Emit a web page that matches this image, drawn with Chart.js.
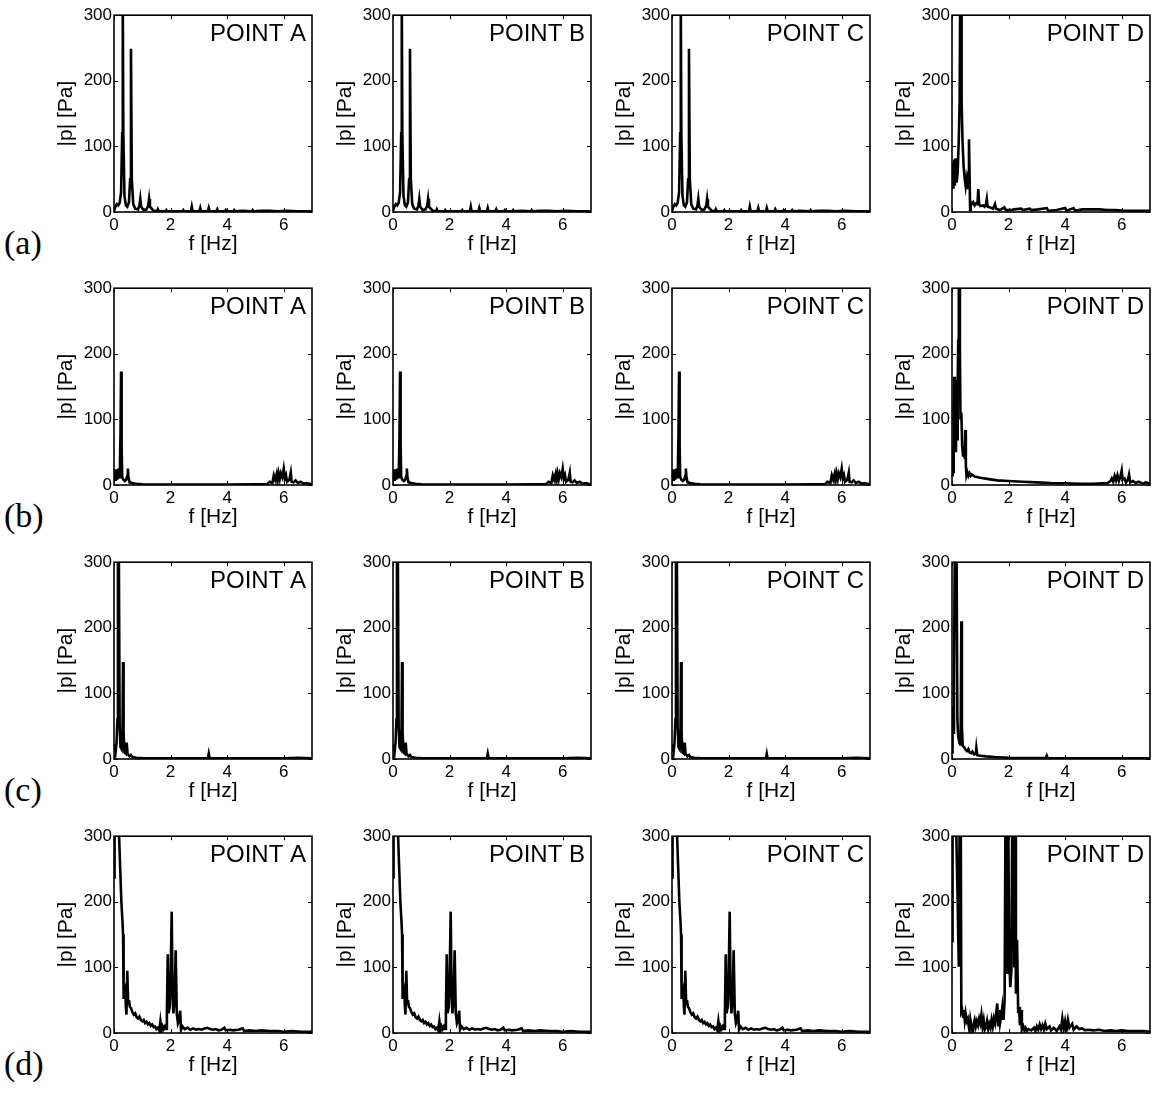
<!DOCTYPE html>
<html>
<head>
<meta charset="utf-8">
<script src="https://cdn.jsdelivr.net/npm/chart.js@4.4.1/dist/chart.umd.min.js"></script>
<style>
html,body{margin:0;padding:0;background:#fff;overflow:hidden;width:1154px;height:1095px}
.panel{position:absolute}
.rowlab{position:absolute;font-family:"Liberation Serif","Times New Roman",serif;font-size:34px;line-height:1;color:#000}
</style>
</head>
<body>
<script>
// axis ticks and labels
const freqTicks=[0,2,4,6]
const pTicks=[0,100,200,300]
const rowLabels=['(a)','(b)','(c)','(d)']
const pointNames=['POINT A','POINT B','POINT C','POINT D']

// spectra [f (Hz), |p| (Pa)]; values above 300 are clipped by the axes
// row (a)
const specA_abc=[[0,2],[0.05,8],[0.1,12],[0.15,10],[0.2,14],[0.25,30],[0.29,120],[0.31,330],[0.33,120],[0.37,25],[0.42,10],[0.47,8],[0.53,15],[0.57,50],[0.6,249],[0.63,50],[0.68,12],[0.75,5],[0.85,4],[0.9,10],[0.93,20],[0.96,8],[1.05,3],[1.15,4],[1.21,10],[1.24,20],[1.27,8],[1.4,2],[1.52,1],[1.55,4],[1.58,1],[1.82,1],[1.85,3],[1.88,1],[2.2,1],[2.42,1],[2.45,3],[2.48,1],[2.72,1],[2.75,8],[2.78,1],[3.02,1],[3.05,6],[3.08,1],[3.32,1],[3.35,6],[3.38,1],[3.62,1],[3.65,4],[3.68,1],[3.92,1],[3.95,3],[3.98,1],[4.22,1],[4.25,3],[4.28,1],[4.55,2],[4.87,1],[4.9,3],[4.93,1],[5.2,2],[5.5,2],[5.8,1],[6.1,2],[6.5,1],[7,1]]
const specA_d=[[0,40],[0.03,75],[0.05,35],[0.08,80],[0.1,40],[0.13,82],[0.16,45],[0.2,60],[0.24,110],[0.27,170],[0.29,330],[0.32,330],[0.34,170],[0.37,110],[0.41,70],[0.45,50],[0.48,40],[0.5,48],[0.53,35],[0.56,45],[0.58,60],[0.6,111],[0.62,60],[0.64,3],[0.66,15],[0.7,12],[0.75,15],[0.8,10],[0.85,13],[0.9,12],[0.93,35],[0.96,12],[1.0,9],[1.1,10],[1.15,8],[1.2,12],[1.23,20],[1.26,8],[1.35,7],[1.45,5],[1.52,12],[1.56,5],[1.7,3],[1.85,7],[1.9,3],[2.1,3],[2.2,4],[2.45,5],[2.5,3],[2.75,5],[2.8,3],[3.05,4],[3.35,6],[3.4,2],[3.7,3],[4.0,6],[4.05,2],[4.3,6],[4.35,2],[4.6,4],[4.9,4],[5.2,4],[5.5,3],[5.8,3],[6.1,2],[6.5,2],[7,2]]
// row (b)
const specB_abc=[[0,10],[0.02,22],[0.04,8],[0.06,24],[0.08,10],[0.1,20],[0.12,8],[0.15,25],[0.18,12],[0.21,30],[0.23,80],[0.25,173],[0.27,60],[0.29,12],[0.33,8],[0.38,6],[0.43,8],[0.47,14],[0.49,25],[0.51,12],[0.55,4],[0.65,3],[0.8,2],[1,1],[1.5,0.5],[2,0.5],[3,0.5],[4,0.5],[5,1],[5.4,1],[5.5,5],[5.6,3],[5.65,15],[5.7,8],[5.75,17],[5.78,6],[5.82,18],[5.86,9],[5.9,18],[5.95,12],[6.0,25],[6.04,10],[6.08,15],[6.12,5],[6.2,8],[6.25,19],[6.28,5],[6.35,4],[6.42,7],[6.5,3],[6.6,5],[6.7,2],[6.8,3],[7,1]]
const specB_d=[[0,15],[0.02,60],[0.04,20],[0.06,120],[0.08,165],[0.1,60],[0.12,160],[0.14,50],[0.16,140],[0.18,70],[0.2,150],[0.22,220],[0.24,330],[0.26,330],[0.28,200],[0.3,100],[0.33,110],[0.36,60],[0.39,45],[0.42,60],[0.45,40],[0.47,84],[0.49,30],[0.51,15],[0.54,20],[0.58,14],[0.62,18],[0.66,14],[0.7,16],[0.8,13],[1.0,11],[1.3,9],[1.6,7],[2,6],[2.5,5],[3,4],[3.5,3],[4,2.5],[4.5,2],[5,2],[5.5,3],[5.6,6],[5.65,10],[5.7,5],[5.75,14],[5.8,7],[5.85,15],[5.9,6],[5.95,12],[6.0,22],[6.03,8],[6.1,10],[6.15,4],[6.22,8],[6.26,16],[6.3,4],[6.4,6],[6.5,3],[6.6,5],[6.75,2],[6.85,4],[7,2]]
// row (c)
const specC_abc=[[0,15],[0.03,22],[0.06,12],[0.09,25],[0.12,60],[0.14,330],[0.17,330],[0.2,50],[0.23,18],[0.27,15],[0.3,40],[0.32,148],[0.34,40],[0.37,10],[0.42,8],[0.45,25],[0.48,8],[0.55,4],[0.6,6],[0.65,3],[0.8,2],[1,1.5],[1.5,1],[2,1],[2.5,1],[3,1],[3.32,1],[3.35,8],[3.38,1],[4,1],[5,1],[6,1],[6.5,2],[7,1]]
const specC_d=[[0,10],[0.02,80],[0.04,40],[0.07,120],[0.1,330],[0.16,330],[0.19,60],[0.22,35],[0.26,25],[0.29,22],[0.31,60],[0.33,210],[0.35,50],[0.38,20],[0.43,18],[0.48,14],[0.53,12],[0.58,15],[0.62,10],[0.68,9],[0.72,11],[0.78,7],[0.84,8],[0.86,17],[0.89,6],[1.0,5],[1.2,4],[1.5,3],[2,2],[2.5,1.5],[3.32,1.5],[3.35,5],[3.38,1.5],[4,1],[5,1],[6,1],[7,1]]
// row (d)
const specD_abc=[[0,300],[0.01,235],[0.03,300],[0.06,330],[0.12,330],[0.18,300],[0.22,250],[0.26,200],[0.3,170],[0.32,150],[0.34,52],[0.37,60],[0.4,66],[0.42,40],[0.44,28],[0.47,95],[0.5,45],[0.53,50],[0.56,40],[0.6,38],[0.65,32],[0.7,28],[0.75,30],[0.8,24],[0.85,22],[0.9,25],[0.95,20],[1.0,18],[1.05,20],[1.1,15],[1.15,17],[1.2,13],[1.25,15],[1.3,11],[1.35,13],[1.4,9],[1.45,10],[1.5,6],[1.55,8],[1.6,4],[1.64,18],[1.68,3],[1.72,10],[1.76,6],[1.8,10],[1.84,6],[1.87,30],[1.9,120],[1.93,30],[1.97,40],[2.0,80],[2.04,185],[2.07,60],[2.1,30],[2.14,50],[2.18,126],[2.22,30],[2.26,15],[2.3,20],[2.34,34],[2.37,5],[2.42,10],[2.5,6],[2.6,8],[2.7,5],[2.8,7],[2.9,5],[3.0,6],[3.1,5],[3.2,7],[3.3,8],[3.4,6],[3.5,5],[3.6,6],[3.7,4],[3.8,5],[3.9,8],[3.95,4],[4.1,5],[4.2,4],[4.4,5],[4.55,7],[4.6,3],[4.8,4],[5,3],[5.2,4],[5.5,3],[5.8,3],[6,2],[6.3,3],[6.6,2],[7,2]]
const specD_d=[[0,140],[0.02,330],[0.14,330],[0.2,200],[0.24,101],[0.27,330],[0.31,330],[0.33,32],[0.36,35],[0.39,25],[0.42,35],[0.45,20],[0.48,30],[0.52,18],[0.56,22],[0.6,8],[0.62,3],[0.65,20],[0.68,12],[0.71,5],[0.74,0],[0.77,15],[0.8,20],[0.84,10],[0.88,18],[0.92,12],[0.96,22],[1.0,15],[1.04,28],[1.08,10],[1.12,20],[1.16,5],[1.2,8],[1.24,18],[1.28,6],[1.32,14],[1.36,8],[1.4,20],[1.44,10],[1.48,22],[1.52,15],[1.56,30],[1.6,45],[1.63,10],[1.67,35],[1.7,15],[1.74,25],[1.78,40],[1.82,20],[1.86,50],[1.89,330],[1.93,330],[1.96,90],[1.99,330],[2.02,120],[2.06,70],[2.1,95],[2.13,330],[2.18,330],[2.2,100],[2.23,330],[2.26,60],[2.3,142],[2.34,30],[2.37,40],[2.4,12],[2.44,35],[2.47,5],[2.52,10],[2.56,4],[2.6,8],[2.65,3],[2.7,6],[2.8,4],[2.9,8],[2.95,3],[3.0,10],[3.05,5],[3.1,13],[3.15,6],[3.2,12],[3.25,5],[3.3,14],[3.35,6],[3.45,10],[3.5,4],[3.6,8],[3.7,3],[3.8,10],[3.85,5],[3.9,22],[3.95,6],[4.0,18],[4.05,5],[4.1,20],[4.15,8],[4.25,14],[4.3,5],[4.4,10],[4.5,6],[4.6,7],[4.7,4],[4.8,5],[5.0,4],[5.2,5],[5.4,3],[5.6,4],[5.8,3],[6.0,4],[6.2,3],[6.5,3],[6.8,3],[7,2]]

// which spectrum goes in which panel: rows (a)-(d), columns A-D
const panelData=[
[specA_abc,specA_abc,specA_abc,specA_d],
[specB_abc,specB_abc,specB_abc,specB_d],
[specC_abc,specC_abc,specC_abc,specC_d],
[specD_abc,specD_abc,specD_abc,specD_d]
]

const PLOT_W=198,PLOT_H=197
const colLeft=[114,393,672,952]
const rowTop=[15,288,562,836]
const PAD_L=62,PAD_T=12,PAD_R=4,PAD_B=50
const sansFont='"Liberation Sans", Arial, sans-serif'

// box round the axes, inward ticks on all sides, point name in the corner
const framePlugin={
id:'frame',
afterDatasetsDraw(chart,args,opts){
const {ctx,chartArea:a,scales:{x,y}}=chart
ctx.save()
ctx.strokeStyle='#000'
ctx.lineWidth=1
ctx.beginPath()
freqTicks.forEach(v=>{
const px=Math.round(x.getPixelForValue(v))+0.5
ctx.moveTo(px,a.bottom);ctx.lineTo(px,a.bottom-4)
ctx.moveTo(px,a.top);ctx.lineTo(px,a.top+4)
})
pTicks.forEach(v=>{
const py=Math.round(y.getPixelForValue(v))+0.5
ctx.moveTo(a.left,py);ctx.lineTo(a.left+4,py)
ctx.moveTo(a.right,py);ctx.lineTo(a.right-4,py)
})
ctx.stroke()
ctx.lineWidth=1.6
ctx.strokeRect(a.left,a.top,a.right-a.left,a.bottom-a.top)
ctx.fillStyle='#000'
ctx.font='24px '+sansFont
ctx.textAlign='right'
ctx.textBaseline='alphabetic'
ctx.fillText(opts.label,a.right-6,a.top+26)
ctx.restore()
}
}

function makePanel(r,c){
const cv=document.createElement('canvas')
cv.className='panel'
cv.width=PAD_L+PLOT_W+PAD_R
cv.height=PAD_T+PLOT_H+PAD_B
cv.style.left=(colLeft[c]-PAD_L)+'px'
cv.style.top=(rowTop[r]-PAD_T)+'px'
document.body.appendChild(cv)
new Chart(cv,{
type:'line',
data:{datasets:[{data:panelData[r][c],borderColor:'#000',borderWidth:2.6,borderJoinStyle:'miter',pointRadius:0,tension:0,clip:0,fill:false}]},
options:{
responsive:false,
animation:false,
layout:{padding:{top:PAD_T,right:PAD_R,left:0,bottom:0}},
plugins:{legend:{display:false},tooltip:{enabled:false},frame:{label:pointNames[c]}},
scales:{
x:{
type:'linear',min:0,max:7,
grid:{display:false,drawTicks:false},
border:{display:false},
ticks:{stepSize:2,includeBounds:false,padding:3,maxRotation:0,color:'#000',font:{family:sansFont,size:17}},
title:{display:true,text:'f [Hz]',color:'#000',font:{family:sansFont,size:21},padding:{top:0,bottom:5}},
afterFit(s){s.height=PAD_B}
},
y:{
type:'linear',min:0,max:300,
grid:{display:false,drawTicks:false},
border:{display:false},
ticks:{stepSize:100,padding:2,color:'#000',font:{family:sansFont,size:17}},
title:{display:true,text:'|p| [Pa]',color:'#000',font:{family:sansFont,size:21},padding:{top:2,bottom:0}},
afterFit(s){s.width=PAD_L}
}
}
},
plugins:[framePlugin]
})
}

for(let r=0;r<4;r++){
for(let c=0;c<4;c++){
makePanel(r,c)
}
const lab=document.createElement('div')
lab.className='rowlab'
lab.textContent=rowLabels[r]
lab.style.left='4px'
lab.style.top=(rowTop[r]+PLOT_H+14)+'px'
document.body.appendChild(lab)
}
</script>
</body>
</html>
